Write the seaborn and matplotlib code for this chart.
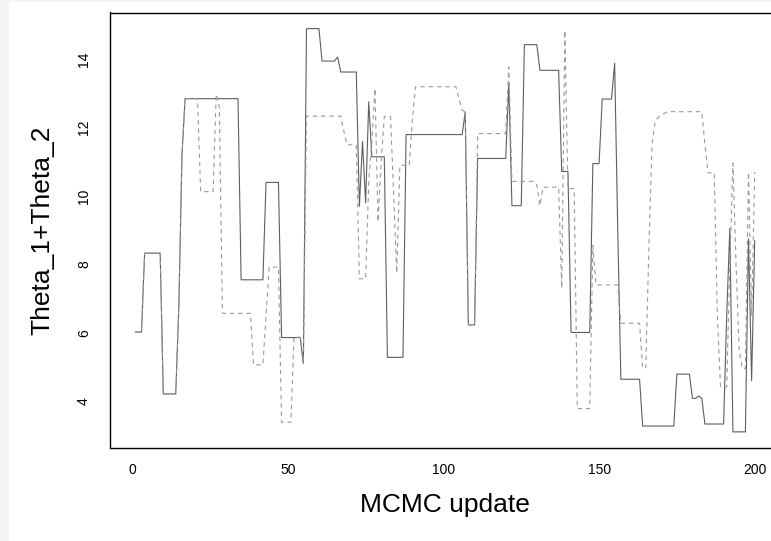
import numpy as np
import pandas as pd
import matplotlib
matplotlib.use("Agg")
import matplotlib.pyplot as plt
import seaborn as sns

# Trace of Theta_1 + Theta_2 for two MCMC chains
chain1 = [
    6.02, 6.02, 6.02, 8.33, 8.33, 8.33, 8.33, 8.33, 8.33, 4.21,
    4.21, 4.21, 4.21, 4.21, 6.8, 11.2, 12.85, 12.85, 12.85, 12.85,
    12.85, 12.85, 12.85, 12.85, 12.85, 12.85, 12.85, 12.85, 12.85, 12.85,
    12.85, 12.85, 12.85, 12.85, 7.55, 7.55, 7.55, 7.55, 7.55, 7.55,
    7.55, 7.55, 10.4, 10.4, 10.4, 10.4, 10.4, 5.86, 5.86, 5.86,
    5.86, 5.86, 5.86, 5.86, 5.1, 14.9, 14.9, 14.9, 14.9, 14.9,
    13.95, 13.95, 13.95, 13.95, 13.95, 14.07, 13.63, 13.63, 13.63, 13.63,
    13.63, 13.63, 9.7, 11.6, 9.8, 12.76, 11.15, 11.15, 11.15, 11.15,
    11.15, 5.28, 5.28, 5.28, 5.28, 5.28, 5.28, 11.8, 11.8, 11.8,
    11.8, 11.8, 11.8, 11.8, 11.8, 11.8, 11.8, 11.8, 11.8, 11.8,
    11.8, 11.8, 11.8, 11.8, 11.8, 11.8, 12.46, 6.23, 6.23, 6.23,
    11.1, 11.1, 11.1, 11.1, 11.1, 11.1, 11.1, 11.1, 11.1, 11.1,
    13.3, 9.72, 9.72, 9.72, 9.72, 14.43, 14.43, 14.43, 14.43, 14.43,
    13.68, 13.68, 13.68, 13.68, 13.68, 13.68, 13.68, 10.72, 10.72, 10.72,
    6.01, 6.01, 6.01, 6.01, 6.01, 6.01, 6.01, 10.95, 10.95, 10.95,
    12.84, 12.84, 12.84, 12.84, 13.89, 9.0, 4.64, 4.64, 4.64, 4.64,
    4.64, 4.64, 4.64, 3.27, 3.27, 3.27, 3.27, 3.27, 3.27, 3.27,
    3.27, 3.27, 3.27, 3.27, 4.79, 4.79, 4.79, 4.79, 4.79, 4.08,
    4.08, 4.15, 4.08, 3.33, 3.33, 3.33, 3.33, 3.33, 3.33, 3.33,
    6.5, 9.05, 3.1, 3.1, 3.1, 3.1, 3.1, 8.75, 4.6, 8.7,
]

chain2 = [
    6.02, 6.02, 6.02, 8.33, 8.33, 8.33, 8.33, 8.33, 8.33, 4.21,
    4.21, 4.21, 4.21, 4.21, 6.8, 11.2, 12.85, 12.85, 12.85, 12.85,
    12.85, 10.13, 10.13, 10.13, 10.13, 10.13, 12.98, 12.6, 6.57, 6.57,
    6.57, 6.57, 6.57, 6.57, 6.57, 6.57, 6.57, 6.57, 5.06, 5.06,
    5.06, 5.06, 6.5, 7.92, 7.92, 7.92, 7.92, 3.38, 3.38, 3.38,
    3.38, 5.87, 5.87, 5.87, 5.1, 12.34, 12.34, 12.34, 12.34, 12.34,
    12.34, 12.34, 12.34, 12.34, 12.34, 12.34, 12.34, 11.9, 11.5, 11.5,
    11.5, 11.5, 7.58, 7.58, 7.58, 10.4, 11.6, 13.15, 9.25, 11.0,
    12.33, 12.33, 12.33, 10.0, 7.75, 10.9, 10.9, 10.9, 10.9, 12.2,
    13.2, 13.2, 13.2, 13.2, 13.2, 13.2, 13.2, 13.2, 13.2, 13.2,
    13.2, 13.2, 13.2, 13.2, 12.85, 12.52, 12.46, 6.23, 6.23, 6.23,
    11.83, 11.83, 11.83, 11.83, 11.83, 11.83, 11.83, 11.83, 11.83, 11.83,
    13.78, 10.43, 10.43, 10.43, 10.43, 10.43, 10.43, 10.43, 10.43, 10.33,
    9.72, 10.26, 10.26, 10.26, 10.26, 10.26, 10.26, 7.3, 14.84, 10.22,
    10.22, 10.22, 3.78, 3.78, 3.78, 3.78, 3.78, 8.56, 7.4, 7.4,
    7.4, 7.4, 7.4, 7.4, 7.4, 7.4, 6.28, 6.28, 6.28, 6.28,
    6.28, 6.28, 6.28, 4.97, 4.97, 8.5, 11.5, 12.2, 12.3, 12.38,
    12.42, 12.47, 12.47, 12.47, 12.47, 12.47, 12.47, 12.47, 12.47, 12.47,
    12.47, 12.47, 12.47, 11.5, 10.68, 10.68, 10.68, 6.5, 4.42, 4.42,
    4.42, 8.0, 10.96, 8.0, 5.5, 4.95, 4.95, 10.7, 6.5, 10.7,
]

iterations = list(range(1, len(chain1) + 1))
x_ticks = [0, 50, 100, 150, 200]
y_ticks = [4, 6, 8, 10, 12, 14]

df = pd.DataFrame({
    "iter": iterations * 2,
    "value": chain1 + chain2,
    "chain": ["chain 1"] * len(chain1) + ["chain 2"] * len(chain2),
})

sns.set_theme(style="white")
plt.rcParams["font.family"] = ["Liberation Sans", "DejaVu Sans"]

fig = plt.figure(figsize=(7.71, 5.41), dpi=100)
fig.patch.set_facecolor("#f4f4f4")
# white page area with a thin grey margin on the left and top
fig.add_artist(plt.Rectangle((9 / 771, 0), 1, 1 - 2 / 541,
                             transform=fig.transFigure, facecolor="white",
                             edgecolor="none", zorder=0))

ax = fig.add_axes([110.5 / 771, 93 / 541, 669 / 771, 435.5 / 541])
ax.set_facecolor("white")

sns.lineplot(data=df, x="iter", y="value", hue="chain", style="chain",
             palette={"chain 1": "#5e5e5e", "chain 2": "#9a9a9a"},
             dashes={"chain 1": "", "chain 2": (4, 3.5)},
             estimator=None, sort=False, linewidth=0.8, legend=False, ax=ax)

# R-style axis extents: 4% padding on each side of the data range
x_all = np.array(iterations)
y_all = np.array(chain1 + chain2)
xr = x_all.max() - x_all.min()
yr = y_all.max() - y_all.min()
ax.set_xlim(x_all.min() - 0.04 * xr, x_all.max() + 0.04 * xr)
ax.set_ylim(y_all.min() - 0.04 * yr, y_all.max() + 0.04 * yr)

ax.set_xticks(x_ticks)
ax.set_yticks(y_ticks)
ax.set_xticklabels([str(t) for t in x_ticks])
ax.set_yticklabels([str(t) for t in y_ticks], rotation=90, va="center")
ax.tick_params(axis="both", direction="out", length=7, width=0.8,
               color="black", labelsize=10, labelcolor="black")
ax.tick_params(axis="x", pad=4)
ax.tick_params(axis="y", pad=7)

for s in ax.spines.values():
    s.set_visible(True)
    s.set_color("black")
    s.set_linewidth(1.0)

ax.set_xlabel("MCMC update", fontsize=19, color="black", labelpad=11)
ax.set_ylabel("Theta_1+Theta_2", fontsize=19, color="black", labelpad=16)

fig.savefig("out.png", dpi=100)
